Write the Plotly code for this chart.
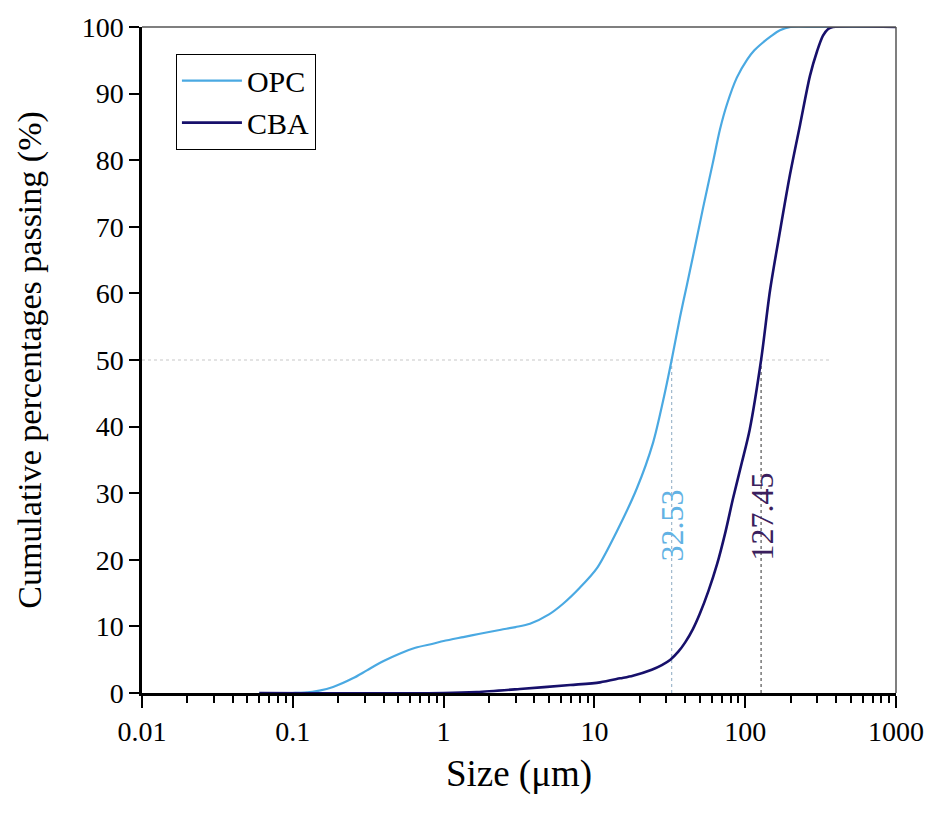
import math
import plotly.graph_objects as go

# ---- data ----
opc_size = [0.06, 0.1, 0.12, 0.15, 0.185, 0.25, 0.31, 0.4, 0.51, 0.65, 0.85, 1.0, 1.35, 1.74,
            2.4, 3.0, 3.74, 5.0, 6.2, 8.0, 10.4, 14.1, 19.1, 24.5, 28.5, 32.53, 37, 41, 45,
            52.5, 61, 68, 75.7, 88, 103, 115, 130, 150, 170, 200, 300, 1000]
opc_pass = [0, 0, 0.05, 0.35, 0.9, 2.2, 3.4, 4.8, 5.9, 6.8, 7.4, 7.8, 8.4, 8.9,
            9.5, 9.9, 10.4, 11.8, 13.4, 15.8, 18.75, 24.3, 30.7, 37.6, 43.8, 50, 56.5, 61.2, 65.5,
            72.8, 79.6, 84.6, 88.4, 92.4, 95.1, 96.5, 97.6, 98.7, 99.5, 100, 100, 100]

cba_size = [0.06, 1.0, 1.66, 3.2, 6.9, 10.9, 14.8, 18, 24, 28, 31.9, 36, 40, 45, 50, 57, 65,
            74, 83, 95, 107, 127.45, 146, 170, 198, 231, 269, 300, 328, 355, 382, 1000]
cba_pass = [0, 0, 0.15, 0.6, 1.2, 1.6, 2.2, 2.6, 3.5, 4.2, 5.0, 6.2, 7.6, 9.6, 11.9, 15.3, 19.3,
            24.2, 29.2, 34.6, 39.5, 50, 60.4, 69.3, 77.8, 85.3, 92.7, 96.4, 98.7, 99.7, 100, 100]

d50_labels = ["32.53", "127.45"]
d50_values = [32.53, 127.45]

x_tickvals = [0.01, 0.1, 1, 10, 100, 1000]
x_ticktext = ["0.01", "0.1", "1", "10", "100", "1000"]

OPC_COLOR = "#4aa9e2"
CBA_COLOR = "#17106b"
FONT = "Liberation Serif, Times New Roman, serif"

fig = go.Figure()

fig.add_trace(go.Scatter(x=opc_size, y=opc_pass, mode="lines", name="OPC",
                         line=dict(color=OPC_COLOR, width=2.2, shape="spline", smoothing=0.8)))
fig.add_trace(go.Scatter(x=cba_size, y=cba_pass, mode="lines", name="CBA",
                         line=dict(color=CBA_COLOR, width=2.6, shape="spline", smoothing=0.8)))

# D50 reference lines
fig.add_shape(type="line", xref="x", yref="y", x0=0.01, x1=360, y0=50, y1=50,
              line=dict(color="#c8c8c8", width=1.2, dash="dot"), layer="below")
fig.add_shape(type="line", xref="x", yref="y", x0=d50_values[0], x1=d50_values[0], y0=0, y1=50,
              line=dict(color="#9fb8cc", width=1.2, dash="dot"), layer="below")
fig.add_shape(type="line", xref="x", yref="y", x0=d50_values[1], x1=d50_values[1], y0=0, y1=50,
              line=dict(color="#555555", width=1.2, dash="dot"), layer="below")

fig.add_annotation(x=math.log10(d50_values[0]), y=25.1, text=d50_labels[0], textangle=-90,
                   showarrow=False, font=dict(family=FONT, size=32, color="#62b2e4"))
fig.add_annotation(x=math.log10(d50_values[1]), y=26.5, text=d50_labels[1], textangle=-90,
                   showarrow=False, font=dict(family=FONT, size=32, color="#3b1f5e"))

# top and right frame (thinner, grey)
fig.add_shape(type="line", xref="paper", yref="paper", x0=0, x1=1, y0=1, y1=1,
              line=dict(color="#555555", width=1.5))
fig.add_shape(type="line", xref="paper", yref="paper", x0=1, x1=1, y0=0, y1=1,
              line=dict(color="#555555", width=1.5))

fig.update_layout(
    width=936, height=815,
    margin=dict(l=142, r=40, t=21, b=122),
    paper_bgcolor="white", plot_bgcolor="white",
    font=dict(family=FONT, size=28, color="black"),
    showlegend=True,
    legend=dict(x=0.045, y=0.96, xanchor="left", yanchor="top",
                bordercolor="black", borderwidth=1, bgcolor="white",
                font=dict(family=FONT, size=30, color="black"),
                tracegroupgap=0, itemwidth=60),
)

fig.update_xaxes(
    type="log", range=[-2, 3],
    tickvals=x_tickvals, ticktext=x_ticktext,
    ticks="outside", ticklen=12, tickwidth=2, tickcolor="black",
    minor=dict(ticks="outside", ticklen=7, tickwidth=2, tickcolor="black", dtick="D1", showgrid=False),
    showline=True, linecolor="black", linewidth=2.5,
    showgrid=False, zeroline=False,
    tickfont=dict(family=FONT, size=28, color="black"),
    title=dict(text="Size (μm)", font=dict(family=FONT, size=37, color="black"), standoff=14),
)
fig.update_yaxes(
    range=[0, 100], dtick=10, tick0=0,
    ticks="outside", ticklen=10, tickwidth=2, tickcolor="black",
    showline=True, linecolor="black", linewidth=2.5,
    showgrid=False, zeroline=False,
    tickfont=dict(family=FONT, size=28, color="black"),
    title=dict(text="Cumulative percentages passing (%)", font=dict(family=FONT, size=34, color="black"),
               standoff=30),
)

fig.write_html("out.html")
